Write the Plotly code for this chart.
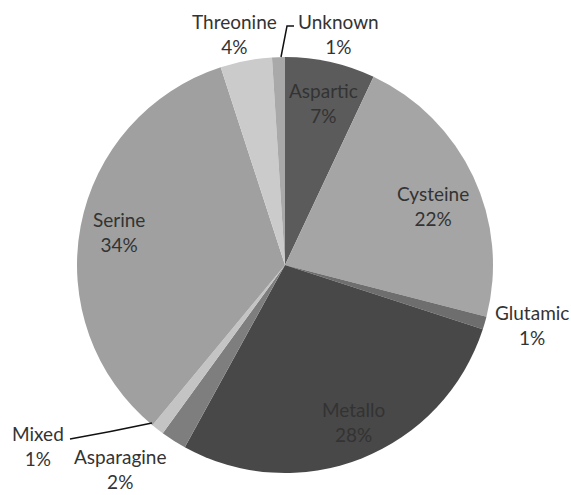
import plotly.graph_objects as go

# Protease classes, clockwise from 12 o'clock
labels = ["Aspartic", "Cysteine", "Glutamic", "Metallo", "Asparagine",
          "Mixed", "Serine", "Threonine", "Unknown"]
percents = [7, 22, 1, 28, 2, 1, 34, 4, 1]
colors = ["#5b5b5b", "#a5a5a5", "#6e6e6e", "#484848", "#7e7e7e",
          "#c4c4c4", "#a0a0a0", "#cbcbcb", "#a9a9a9"]

W, H = 571, 495
cx, cy, r = 285, 265, 208

# label block centres in pixels
label_pos = {
    "Aspartic": (323, 103), "Cysteine": (433, 206), "Glutamic": (532, 325),
    "Metallo": (353, 422), "Asparagine": (120, 469), "Mixed": (38, 446),
    "Serine": (119, 232), "Threonine": (234, 34), "Unknown": (338, 34),
}

def px(x):
    return x / W

def py(y):
    return 1 - y / H

fig = go.Figure(go.Pie(
    labels=labels,
    values=percents,
    sort=False,
    direction="clockwise",
    rotation=0,
    marker=dict(colors=colors, line=dict(width=0)),
    textinfo="none",
    hoverinfo="label+percent",
    showlegend=False,
    domain=dict(x=[px(cx - r), px(cx + r)], y=[py(cy + r), py(cy - r)]),
))

for lab, val in zip(labels, percents):
    x, y = label_pos[lab]
    fig.add_annotation(
        x=px(x), y=py(y), xref="paper", yref="paper",
        text=f"{lab}<br>{val}%", showarrow=False,
        font=dict(family="Lato, sans-serif", size=19, color="#333333"),
        align="center", xanchor="center", yanchor="middle",
    )

# leader lines for the two thin slices
line_style = dict(color="#111111", width=1.5)
fig.add_shape(type="path", xref="paper", yref="paper",
              path=f"M {px(281)} {py(57)} L {px(287)} {py(26)} L {px(294)} {py(26)}",
              line=line_style)
fig.add_shape(type="path", xref="paper", yref="paper",
              path=f"M {px(152)} {py(423)} Q {px(110)} {py(432)} {px(70)} {py(439)}",
              line=line_style)

fig.update_layout(
    width=W, height=H,
    margin=dict(l=0, r=0, t=0, b=0),
    paper_bgcolor="white", plot_bgcolor="white",
)

fig.write_html("out.html")
